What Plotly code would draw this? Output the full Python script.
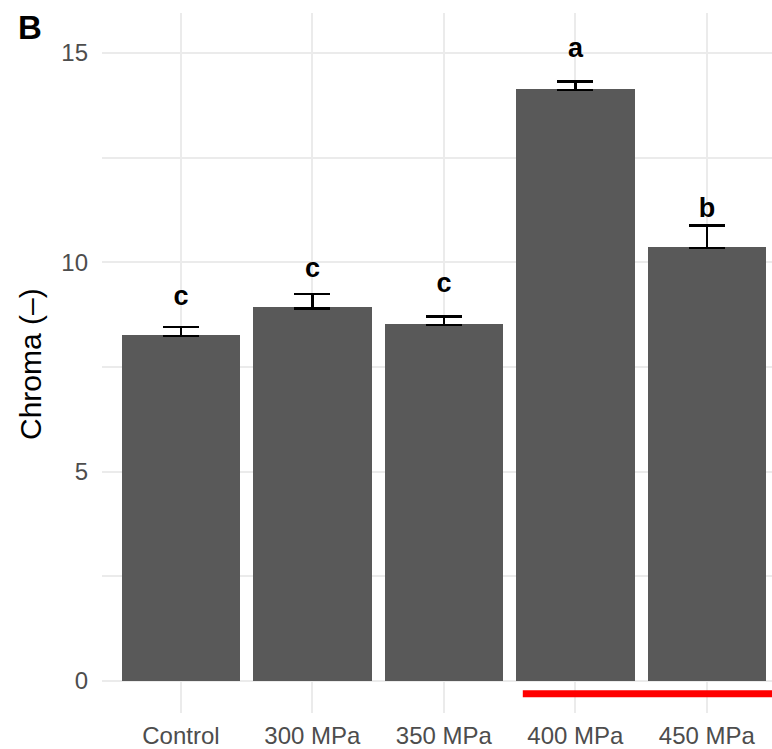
import plotly.graph_objects as go

categories = ["Control", "300 MPa", "350 MPa", "400 MPa", "450 MPa"]
chroma_mean = [8.26, 8.93, 8.53, 14.14, 10.37]
err_upper = [0.19, 0.31, 0.18, 0.18, 0.51]
err_lower = [0.02, 0.04, 0.03, 0.03, 0.03]
letters = ["c", "c", "c", "a", "b"]
letter_y = [9.15, 9.82, 9.44, 15.06, 11.25]
highlight_groups = ["400 MPa", "450 MPa"]
y_tick_vals = [0, 5, 10, 15]

FONT = "Liberation Sans, Arial, sans-serif"
W, H = 772, 749
ML, MR, MT, MB = 102, 0, 13, 34

fig = go.Figure()
fig.add_trace(go.Bar(
    x=categories, y=chroma_mean, width=0.9,
    marker=dict(color="#595959", line=dict(width=0)),
    error_y=dict(type="data", symmetric=False, array=err_upper, arrayminus=err_lower,
                 color="black", thickness=2.6, width=18),
    showlegend=False, hoverinfo="x+y",
))
fig.add_trace(go.Scatter(
    x=categories, y=letter_y, mode="text", text=letters,
    textposition="middle center",
    textfont=dict(family=FONT, size=27, color="black", weight="bold"),
    showlegend=False, hoverinfo="skip",
))

# red bar under highlighted groups
i0 = categories.index(highlight_groups[0])
i1 = categories.index(highlight_groups[-1])
fig.add_shape(type="line", xref="x", yref="y",
              x0=i0 - 0.4, x1=i1 + 0.6, y0=-0.3, y1=-0.3,
              line=dict(color="#ff0000", width=7))

plot_w = W - ML - MR
fig.update_layout(
    width=W, height=H,
    margin=dict(l=ML, r=MR, t=MT, b=MB, pad=0),
    plot_bgcolor="white", paper_bgcolor="white",
    font=dict(family=FONT),
    bargap=0,
    xaxis=dict(
        type="category", categoryorder="array", categoryarray=categories,
        range=[-0.6, -0.6 + plot_w / 131.5],
        showgrid=True, gridcolor="#ebebeb", gridwidth=2,
        showline=False, zeroline=False, ticks="",
        ticklabelstandoff=6,
        tickfont=dict(family=FONT, size=24, color="#4d4d4d"),
    ),
    yaxis=dict(
        range=[-0.762, 15.952],
        tickvals=y_tick_vals,
        showgrid=True, gridcolor="#ebebeb", gridwidth=2,
        minor=dict(dtick=2.5, tick0=0, showgrid=True, gridcolor="#ebebeb", gridwidth=2),
        showline=False, zeroline=False, ticks="",
        ticklabelstandoff=13,
        tickfont=dict(family=FONT, size=24, color="#4d4d4d"),
    ),
    annotations=[
        dict(text="Chroma (–)", textangle=-90, xref="paper", yref="paper",
             x=(31 - ML) / plot_w, y=1 - (365 - MT) / (H - MT - MB),
             xanchor="center", yanchor="middle",
             showarrow=False, font=dict(family=FONT, size=30, color="black")),
        dict(text="<b>B</b>", xref="paper", yref="paper",
             x=(30 - ML) / plot_w, y=1 + (MT - 28) / (H - MT - MB),
             xanchor="center", yanchor="middle",
             showarrow=False, font=dict(family=FONT, size=33, color="black")),
    ],
)

fig.write_html("out.html")
